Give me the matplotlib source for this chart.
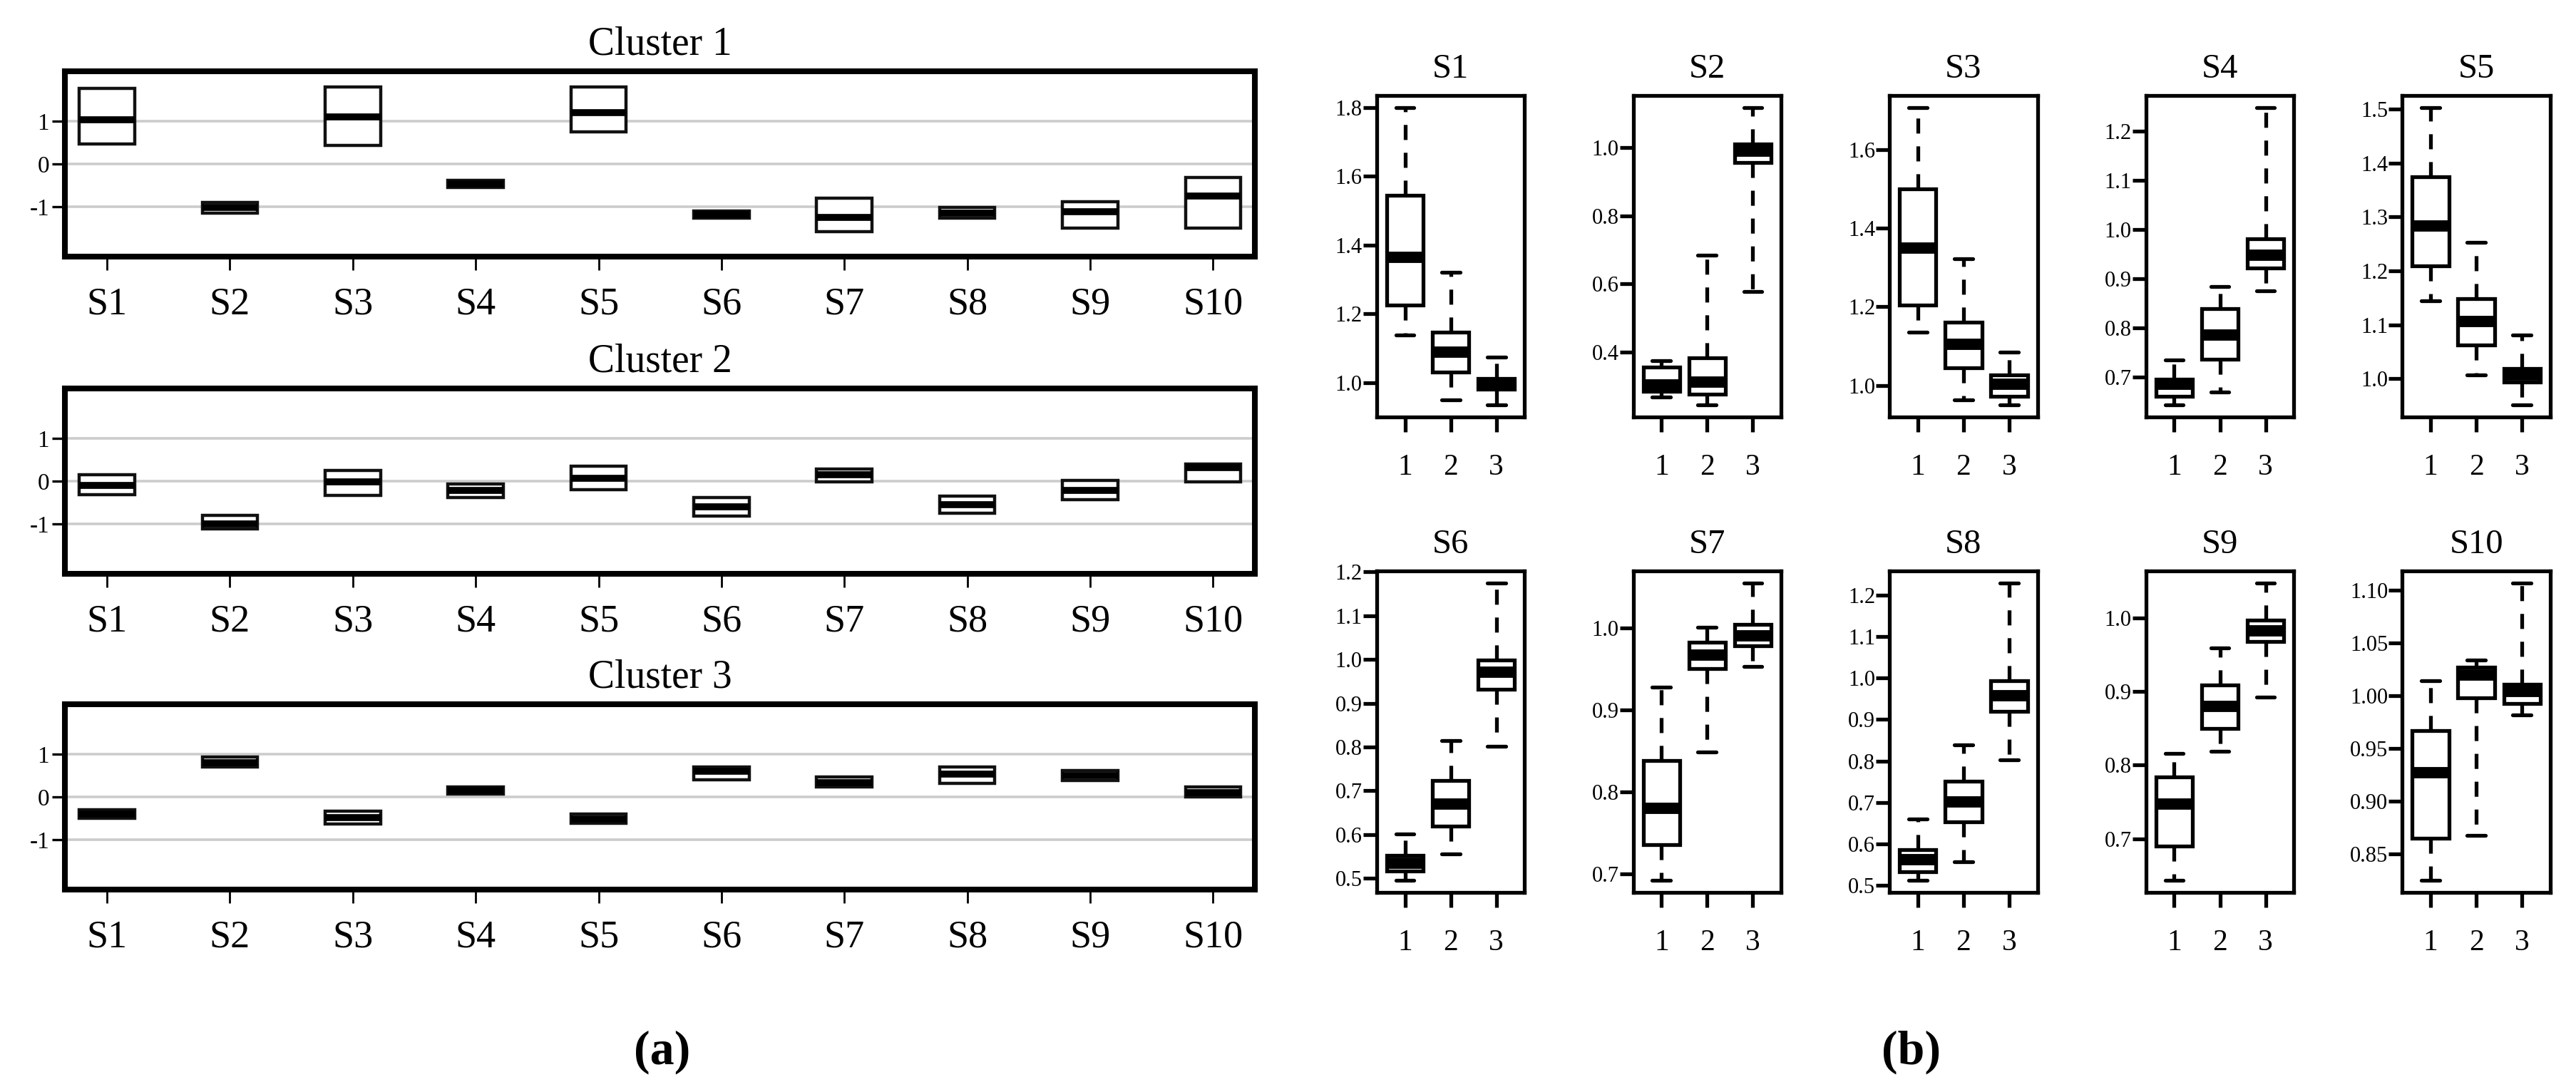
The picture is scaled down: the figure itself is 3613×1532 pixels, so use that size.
import matplotlib
matplotlib.use('Agg')
import matplotlib.pyplot as plt

plt.rcParams['font.family'] = ['Liberation Serif', 'DejaVu Serif']

W, H, DPI = 3613, 1532, 100

# ---------------- data: panel (a) ----------------
samples = ['S1', 'S2', 'S3', 'S4', 'S5', 'S6', 'S7', 'S8', 'S9', 'S10']
cluster_names = ['Cluster 1', 'Cluster 2', 'Cluster 3']

c1_q1 = [0.47, -1.15, 0.43, -0.54, 0.74, -1.27, -1.58, -1.27, -1.50, -1.50]
c1_med = [1.03, -1.02, 1.10, -0.47, 1.20, -1.18, -1.25, -1.14, -1.12, -0.75]
c1_q3 = [1.76, -0.90, 1.80, -0.39, 1.79, -1.09, -0.80, -1.01, -0.88, -0.32]

c2_q1 = [-0.32, -1.12, -0.33, -0.38, -0.20, -0.82, -0.02, -0.75, -0.43, -0.02]
c2_med = [-0.10, -1.00, -0.02, -0.22, 0.07, -0.60, 0.15, -0.55, -0.22, 0.32]
c2_q3 = [0.15, -0.80, 0.25, -0.06, 0.35, -0.38, 0.28, -0.35, 0.01, 0.40]

c3_q1 = [-0.50, 0.70, -0.63, 0.07, -0.62, 0.40, 0.23, 0.32, 0.38, 0.00]
c3_med = [-0.40, 0.80, -0.48, 0.15, -0.52, 0.60, 0.33, 0.53, 0.50, 0.10]
c3_q3 = [-0.30, 0.93, -0.33, 0.24, -0.40, 0.70, 0.46, 0.70, 0.62, 0.23]

a_q1 = [c1_q1, c2_q1, c3_q1]
a_med = [c1_med, c2_med, c3_med]
a_q3 = [c1_q3, c2_q3, c3_q3]
a_yticks = [-1, 0, 1]
a_yticklabels = ['-1', '0', '1']

# ---------------- data: panel (b) ----------------
groups = ['1', '2', '3']
b_whishi = [
    [1.800, 1.320, 1.074],
    [0.375, 0.684, 1.117],
    [1.707, 1.322, 1.084],
    [0.735, 0.885, 1.249],
    [1.503, 1.253, 1.081],
    [0.601, 0.815, 1.175],
    [0.928, 1.001, 1.055],
    [0.660, 0.838, 1.229],
    [0.816, 0.959, 1.048],
    [1.014, 1.034, 1.107],
]
b_q3 = [
    [1.544, 1.146, 1.012],
    [0.356, 0.384, 1.010],
    [1.500, 1.160, 1.027],
    [0.695, 0.840, 0.982],
    [1.375, 1.148, 1.019],
    [0.552, 0.723, 0.998],
    [0.838, 0.983, 1.004],
    [0.586, 0.751, 0.994],
    [0.784, 0.909, 0.997],
    [0.967, 1.027, 1.011],
]
b_med = [
    [1.364, 1.088, 0.997],
    [0.305, 0.312, 0.990],
    [1.350, 1.104, 1.003],
    [0.685, 0.785, 0.948],
    [1.283, 1.106, 1.007],
    [0.535, 0.669, 0.971],
    [0.780, 0.967, 0.990],
    [0.562, 0.702, 0.957],
    [0.747, 0.880, 0.983],
    [0.927, 1.020, 1.004],
]
b_q1 = [
    [1.226, 1.030, 0.982],
    [0.285, 0.277, 0.956],
    [1.204, 1.044, 0.973],
    [0.661, 0.737, 0.922],
    [1.209, 1.063, 0.994],
    [0.516, 0.619, 0.932],
    [0.736, 0.950, 0.978],
    [0.533, 0.654, 0.920],
    [0.690, 0.850, 0.968],
    [0.865, 0.998, 0.993],
]
b_whislo = [
    [1.138, 0.950, 0.935],
    [0.268, 0.245, 0.578],
    [1.135, 0.963, 0.950],
    [0.643, 0.669, 0.876],
    [1.144, 1.007, 0.951],
    [0.495, 0.555, 0.801],
    [0.692, 0.849, 0.953],
    [0.512, 0.557, 0.802],
    [0.643, 0.819, 0.893],
    [0.825, 0.868, 0.982],
]
b_yticks = [
    [1.0, 1.2, 1.4, 1.6, 1.8],
    [0.4, 0.6, 0.8, 1.0],
    [1.0, 1.2, 1.4, 1.6],
    [0.7, 0.8, 0.9, 1.0, 1.1, 1.2],
    [1.0, 1.1, 1.2, 1.3, 1.4, 1.5],
    [0.5, 0.6, 0.7, 0.8, 0.9, 1.0, 1.1, 1.2],
    [0.7, 0.8, 0.9, 1.0],
    [0.5, 0.6, 0.7, 0.8, 0.9, 1.0, 1.1, 1.2],
    [0.7, 0.8, 0.9, 1.0],
    [0.85, 0.90, 0.95, 1.00, 1.05, 1.10],
]
b_decimals = [1, 1, 1, 1, 1, 1, 1, 1, 1, 2]

# ---------------- figure ----------------
fig = plt.figure(figsize=(W / DPI, H / DPI), dpi=DPI)


def add_ax(x0, y0, x1, y1):
    return fig.add_axes([x0 / W, 1 - y1 / H, (x1 - x0) / W, (y1 - y0) / H])


# ---- panel (a) ----
a_left, a_right = 91.4, 1760.0
a_centers = [230, 675, 1118]
a_half = 130
for k in range(3):
    ax = add_ax(a_left, a_centers[k] - a_half, a_right, a_centers[k] + a_half)
    stats = []
    for i in range(len(samples)):
        stats.append(dict(med=a_med[k][i], q1=a_q1[k][i], q3=a_q3[k][i],
                          whislo=a_q1[k][i], whishi=a_q3[k][i], fliers=[]))
    ax.bxp(stats, positions=list(range(1, len(samples) + 1)), widths=0.45,
           showfliers=False, showcaps=False, patch_artist=True,
           boxprops=dict(facecolor='white', edgecolor='#111111', linewidth=3.2),
           medianprops=dict(color='black', linewidth=7.0, solid_capstyle='butt'),
           whiskerprops=dict(linewidth=0))
    for g in a_yticks:
        ax.axhline(g, color='#cccccc', lw=2.6, zorder=0)
    ax.set_xlim(0.66, 10.34)
    ax.set_ylim(-2.16, 2.16)
    ax.set_xticks(list(range(1, len(samples) + 1)))
    ax.set_xticklabels(samples, fontsize=39)
    ax.set_yticks(a_yticks)
    ax.set_yticklabels(a_yticklabels, fontsize=24)
    ax.tick_params(axis='x', direction='out', length=14, width=2.0, pad=16)
    ax.tick_params(axis='y', direction='out', length=13, width=2.4, pad=3)
    for sp in ax.spines.values():
        sp.set_linewidth(5.8)
    ax.set_title(cluster_names[k], fontsize=40, pad=17)

fig.text(929 / W, 1 - 1476 / H, '(a)', ha='center', va='center',
         fontsize=49, fontweight='bold')

# ---- panel (b) ----
col_left0, col_step, b_w = 1931.0, 359.6, 207.4
row_tops = [134, 801]
b_h = 451
LW = 3.8
for s in range(10):
    r, c = divmod(s, 5)
    x0 = col_left0 + c * col_step
    y0 = row_tops[r]
    ax = add_ax(x0, y0, x0 + b_w, y0 + b_h)
    stats = []
    for g in range(3):
        stats.append(dict(med=b_med[s][g], q1=b_q1[s][g], q3=b_q3[s][g],
                          whislo=b_whislo[s][g], whishi=b_whishi[s][g], fliers=[]))
    ax.bxp(stats, positions=[1, 2, 3], widths=0.8, capwidths=0.4,
           showfliers=False, patch_artist=True,
           boxprops=dict(facecolor='white', edgecolor='black', linewidth=LW),
           medianprops=dict(color='black', linewidth=3 * LW, solid_capstyle='butt'),
           whiskerprops=dict(color='black', linewidth=LW, linestyle=(0, (4.0, 3.4)),
                             dash_capstyle='butt'),
           capprops=dict(color='black', linewidth=LW, solid_capstyle='round'))
    lo = min(b_whislo[s])
    hi = max(b_whishi[s])
    rng = hi - lo
    ax.set_ylim(lo - 0.04 * rng, hi + 0.04 * rng)
    ax.set_xlim(0.38, 3.62)
    ax.set_xticks([1, 2, 3])
    ax.set_xticklabels(groups, fontsize=30)
    ax.set_yticks(b_yticks[s])
    fmt = '{:.%df}' % b_decimals[s]
    ax.set_yticklabels([fmt.format(v) for v in b_yticks[s]], fontsize=22)
    ax.tick_params(axis='x', direction='out', length=15, width=LW, pad=22)
    ax.tick_params(axis='y', direction='out', length=14, width=LW, pad=0.5)
    for sp in ax.spines.values():
        sp.set_linewidth(LW)
    ax.set_title(samples[s], fontsize=35, pad=18)

fig.text(2681 / W, 1 - 1476 / H, '(b)', ha='center', va='center',
         fontsize=49, fontweight='bold')

fig.savefig('out.png', dpi=DPI, facecolor='white')
